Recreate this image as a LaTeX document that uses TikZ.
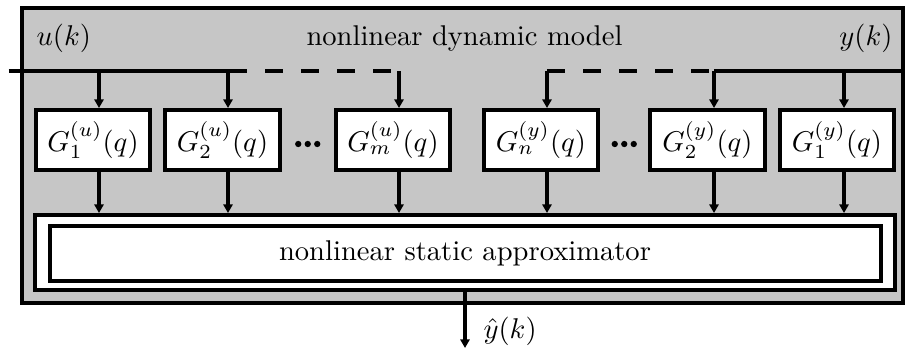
\documentclass[tikz,border=0pt]{standalone}
\usetikzlibrary{arrows.meta,calc}
\definecolor{panel}{RGB}{198,198,198}
\tikzset{
  frame/.style={draw=black, line width=1.4pt},
  gbox/.style={frame, fill=white, minimum width=40.1pt, minimum height=21pt, inner sep=0pt},
  sig/.style={line width=1.15pt},
  flow/.style={sig, -{Triangle[length=3pt,width=3.2pt]}},
  skip/.style={sig, dash pattern=on 6.3pt off 6.3pt},
  lbl/.style={inner sep=0pt},
  dotmark/.style={fill=black}
}
\begin{document}
\begin{tikzpicture}[x=0.35pt,y=-0.35pt]
\useasboundingbox (0,0) rectangle (911,349);

% grey frame of the dynamic model
\node[frame, fill=panel, minimum width=308.2pt, minimum height=103.4pt] (model) at (462.25,155.75) {};

% labels on the frame
\node[lbl, anchor=base west] (ulbl) at (36,45) {$u(k)$};
\node[lbl, anchor=base] (title) at (464.5,45) {nonlinear dynamic model};
\node[lbl, anchor=base east] (ylbl) at (893,45) {$y(k)$};

% linear filter blocks
\node[gbox] (gu1) at (93,140)    {$G_1^{(u)}(q)$};
\node[gbox] (gu2) at (222.5,140) {$G_2^{(u)}(q)$};
\node[gbox] (gum) at (393,140)   {$G_m^{(u)}(q)$};
\node[gbox] (gyn) at (541,140)   {$G_n^{(y)}(q)$};
\node[gbox] (gy2) at (707.5,140) {$G_2^{(y)}(q)$};
\node[gbox] (gy1) at (837,140)   {$G_1^{(y)}(q)$};

% static approximator (double frame)
\node[frame, fill=white, minimum width=301pt, minimum height=26.25pt] (apx) at (465,252.5) {};
\node[frame, fill=white, minimum width=290.85pt, minimum height=19.4pt] (apxin) at (465,253.25) {nonlinear static approximator};

% omitted blocks
\foreach \a/\b/\n in {gu2/gum/du, gyn/gy2/dy} {
  \coordinate (\n) at ($(\a.east)!0.5!(\b.west)+(0,4)$);
  \fill[dotmark] ($(\n)+(-9.5,0)$) circle (1.1pt);
  \fill[dotmark] (\n) circle (1.1pt);
  \fill[dotmark] ($(\n)+(9.5,0)$) circle (1.1pt);
}

% input bus u(k)
\coordinate (uin) at (8.5,71);
\coordinate (useg) at (247,71);
\coordinate (tu1) at (99,71);
\coordinate (tu2) at (228,71);
\coordinate (tum) at (399,71);
\draw[sig] (uin) -- (useg);
\draw[skip, dash phase=6.3pt] (useg) -- (tum);

% output bus y(k)
\coordinate (yin) at (902,71);
\coordinate (ty1) at (844,71);
\coordinate (ty2) at (714,71);
\coordinate (tyn) at (547,71);
\draw[sig] (yin) -- (ty2);
\draw[skip] (tyn) -- (ty2);

% taps into the filters and from the filters into the approximator
\foreach \t/\g in {tu1/gu1, tu2/gu2, tum/gum, tyn/gyn, ty2/gy2, ty1/gy1} {
  \draw[flow] (\t) -- (\t |- \g.north);
  \draw[flow] (\t |- \g.south) -- (\t |- apx.north);
}

% model output
\coordinate (yhat) at (465,348);
\draw[flow] (apx.south) -- (yhat);
\node[lbl, anchor=base west] (yhatlbl) at (483,338) {$\hat{y}(k)$};
\end{tikzpicture}
\end{document}
